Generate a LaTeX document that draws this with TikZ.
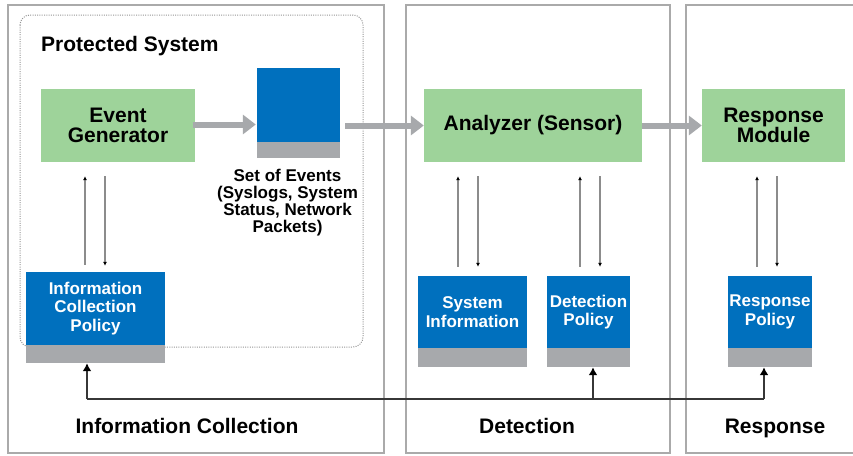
\documentclass[tikz,border=0pt]{standalone}
\usepackage{fontspec}
\setmainfont{Liberation Sans}
\usetikzlibrary{arrows.meta,calc}
\definecolor{boxgreen}{RGB}{158,211,154}
\definecolor{boxblue}{RGB}{0,112,190}
\definecolor{basegray}{RGB}{167,169,172}
\definecolor{panelgray}{RGB}{170,170,170}
\definecolor{dotgray}{RGB}{150,150,150}
\definecolor{thingray}{RGB}{140,140,140}
\definecolor{busgray}{RGB}{55,55,55}
\tikzset{
  panel/.style={draw=panelgray, line width=1.7pt},
  greenbox/.style={fill=boxgreen, inner sep=0pt, align=center,
    font=\bfseries\fontsize{21}{20}\selectfont},
  bluebox/.style={fill=boxblue, inner sep=0pt, align=center, text=white,
    font=\bfseries\fontsize{17}{18.5}\selectfont},
  basebox/.style={fill=basegray, inner sep=0pt},
  label/.style={inner sep=0pt, font=\bfseries\fontsize{21}{21}\selectfont},
  bigarrow/.style={draw=basegray, line width=6pt,
    -{Triangle[length=13pt,width=19pt,color=basegray]}},
  uparrow/.style={draw=thingray, line width=1.2pt,
    -{Latex[length=4pt,width=4pt,color=black]}},
  busline/.style={draw=busgray, line width=1.8pt},
  busarrow/.style={draw=busgray, line width=1.8pt,
    -{Latex[length=8pt,width=9pt,color=black]}}
}
\begin{document}
\begin{tikzpicture}[x=1pt,y=-1pt]
\useasboundingbox (0,0) rectangle (853,455);
\fill[white] (0,0) rectangle (853,455);
% panels
\draw[panel] (8,5) rectangle (384,453);
\draw[panel] (406,5) rectangle (670,453);
\draw[panel] (686,5) rectangle (870,453);
% protected system
\draw[dotgray, dash pattern=on 1pt off 1.3pt, line width=1pt, rounded corners=10pt] (20,15) rectangle (363,347);
\node[label, anchor=base west] (ps) at (41,51) {Protected System};
% main boxes
\node[greenbox, minimum width=154pt, minimum height=73pt] (egen) at (118,125.5) {Event\\Generator};
\node[fill=boxblue, inner sep=0pt, minimum width=83pt, minimum height=74pt] (soe) at (298.5,105) {};
\node[basebox, minimum width=83pt, minimum height=16pt] (soeb) at (298.5,150) {};
\node[inner sep=0pt, align=center, anchor=north, font=\bfseries\fontsize{17}{17}\selectfont] (soet) at (287.5,169)
  {Set of Events\\(Syslogs, System\\Status, Network\\Packets)};
\node[greenbox, minimum width=218pt, minimum height=73pt] (an) at (533,125.5) {Analyzer (Sensor)};
\node[greenbox, minimum width=143pt, minimum height=73pt] (rm) at (773.5,125.5) {Response\\Module};
% policy boxes
\node[bluebox, minimum width=139pt, minimum height=73pt] (icp) at (95.5,308.5) {Information\\Collection\\Policy};
\node[basebox, minimum width=139pt, minimum height=18pt] (icpb) at (95.5,354) {};
\node[bluebox, minimum width=109pt, minimum height=72pt] (si) at (472.5,312) {System\\Information};
\node[basebox, minimum width=109pt, minimum height=19pt] (sib) at (472.5,357.5) {};
\node[bluebox, minimum width=83pt, minimum height=72pt] (dp) at (588.5,312) {Detection\\Policy};
\node[basebox, minimum width=83pt, minimum height=19pt] (dpb) at (588.5,357.5) {};
\node[bluebox, minimum width=84pt, minimum height=72pt] (rp) at (770,312) {Response\\Policy};
\node[basebox, minimum width=84pt, minimum height=19pt] (rpb) at (770,357.5) {};
% big arrows
\draw[bigarrow] ($(egen.east)+(-2,-1)$) -- ($(egen.east -| soe.west)+(-1,-1)$);
\draw[bigarrow] ($(an.west -| soe.east)+(5,0)$) -- (an.west);
\draw[bigarrow] (an.east) -- (rm.west);
% small vertical arrows
\coordinate (a1) at (85,0);   \coordinate (b1) at (105,0);
\coordinate (a2) at (458,0);  \coordinate (b2) at (478,0);
\coordinate (a3) at (580,0);  \coordinate (b3) at (600,0);
\coordinate (a4) at (757,0);  \coordinate (b4) at (777,0);
\draw[uparrow] ($(icp.north -| a1)+(0,-7)$) -- ($(egen.south -| a1)+(0,14)$);
\draw[uparrow] ($(egen.south -| b1)+(0,14)$) -- ($(icp.north -| b1)+(0,-6)$);
\draw[uparrow] ($(si.north -| a2)+(0,-9)$) -- ($(an.south -| a2)+(0,14)$);
\draw[uparrow] ($(an.south -| b2)+(0,14)$) -- ($(si.north -| b2)+(0,-9)$);
\draw[uparrow] ($(dp.north -| a3)+(0,-9)$) -- ($(an.south -| a3)+(0,14)$);
\draw[uparrow] ($(an.south -| b3)+(0,14)$) -- ($(dp.north -| b3)+(0,-9)$);
\draw[uparrow] ($(rp.north -| a4)+(0,-9)$) -- ($(rm.south -| a4)+(0,14)$);
\draw[uparrow] ($(rm.south -| b4)+(0,14)$) -- ($(rp.north -| b4)+(0,-9)$);
% feedback bus
\coordinate (bus1) at (87,399);
\coordinate (bus2) at (593,399);
\coordinate (bus3) at (764,399);
\draw[busline] (bus1) -- (bus3);
\draw[busarrow] (bus1) -- (bus1 |- icpb.south);
\draw[busarrow] (bus2) -- (bus2 |- dpb.south);
\draw[busarrow] (bus3) -- (bus3 |- rpb.south);
% bottom labels
\node[label, anchor=base] (l1) at (187,433) {Information Collection};
\node[label, anchor=base] (l2) at (527,433) {Detection};
\node[label, anchor=base] (l3) at (775,433) {Response};
\end{tikzpicture}
\end{document}
